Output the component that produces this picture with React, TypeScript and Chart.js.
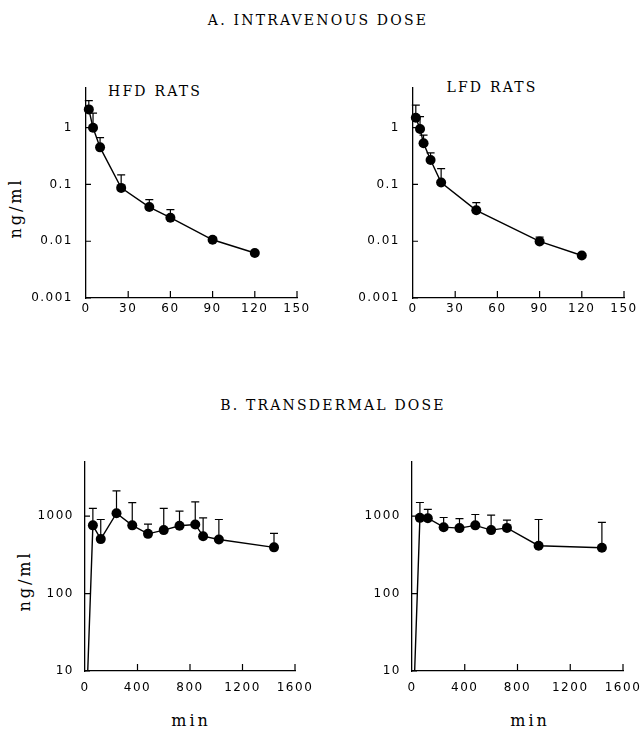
import React, { useEffect, useRef } from "react";
import { Chart, registerables } from "chart.js";
Chart.register(...registerables);

// ---------- data ----------
const ivTicksX = [0, 30, 60, 90, 120, 150];
const ivTicksY = [0.001, 0.01, 0.1, 1];
const ivTickLabelsY = ["0.001", "0.01", "0.1", "1"];
const tdTicksX = [0, 400, 800, 1200, 1600];
const tdTicksY = [10, 100, 1000];
const tdTickLabelsY = ["10", "100", "1000"];

// A. intravenous dose, HFD rats (min, ng/ml, upper end of error bar)
const hfdIvTime = [2, 5, 10, 25, 45, 60, 90, 120];
const hfdIvConc = [2.1, 1.0, 0.45, 0.087, 0.04, 0.026, 0.0106, 0.0062];
const hfdIvUpper = [3.0, 1.8, 0.67, 0.148, 0.054, 0.036, 0.0116, null];

// A. intravenous dose, LFD rats
const lfdIvTime = [2, 5, 7.5, 12.5, 20, 45, 90, 120];
const lfdIvConc = [1.5, 0.95, 0.53, 0.27, 0.108, 0.035, 0.0099, 0.0056];
const lfdIvUpper = [2.5, 1.56, 0.74, 0.36, 0.19, 0.048, 0.0118, null];

// B. transdermal dose, HFD rats
const hfdTdTime = [0, 60, 120, 240, 360, 480, 600, 720, 840, 900, 1020, 1440];
const hfdTdConc = [1, 760, 505, 1090, 760, 590, 660, 750, 780, 550, 500, 395];
const hfdTdUpper = [null, 1260, 905, 2120, 1490, 790, 1260, 1160, 1530, 950, 905, 600];

// B. transdermal dose, LFD rats
const lfdTdTime = [0, 60, 120, 240, 360, 480, 600, 720, 960, 1440];
const lfdTdConc = [1, 950, 940, 720, 700, 760, 660, 705, 415, 390];
const lfdTdUpper = [null, 1500, 1220, 960, 930, 1050, 1030, 890, 905, 830];

type Box = { x: number; y: number; w: number; h: number };
type Area = { l: number; t: number; r: number; b: number };

type PanelProps = {
  box: Box;
  area: Area;
  xMin: number;
  xMax: number;
  xTicks: number[];
  yMin: number;
  yMax: number;
  yTicks: number[];
  yLabels: string[];
  times: number[];
  conc: number[];
  upper: (number | null)[];
  yPad: number;
  xPad: number;
};

function Panel(p: PanelProps) {
  const ref = useRef<HTMLCanvasElement>(null);
  useEffect(() => {
    if (!ref.current) return;
    const W = p.box.w;
    const H = p.box.h;
    const aL = p.area.l - p.box.x;
    const aT = p.area.t - p.box.y;
    const aR = p.area.r - p.box.x;
    const aB = p.area.b - p.box.y;
    const data = p.times.map((t, i) => ({ x: t, y: p.conc[i] }));

    const decor = {
      id: "decor",
      beforeDraw(chart: any) {
        chart.ctx.letterSpacing = "1.5px";
      },
      beforeDatasetsDraw(chart: any) {
        const ctx = chart.ctx;
        const xs = chart.scales.x;
        const ys = chart.scales.y;
        ctx.save();
        ctx.strokeStyle = "#000";
        ctx.lineWidth = 1.2;
        p.times.forEach((t, i) => {
          const u = p.upper[i];
          if (u === null || u === undefined) return;
          const x = xs.getPixelForValue(t);
          const y1 = ys.getPixelForValue(p.conc[i]);
          const y2 = ys.getPixelForValue(u);
          ctx.beginPath();
          ctx.moveTo(x, y1);
          ctx.lineTo(x, y2);
          ctx.moveTo(x - 4, y2);
          ctx.lineTo(x + 4, y2);
          ctx.stroke();
        });
        ctx.restore();
      },
      afterDraw(chart: any) {
        const ctx = chart.ctx;
        const xs = chart.scales.x;
        const ys = chart.scales.y;
        const ca = chart.chartArea;
        ctx.save();
        ctx.strokeStyle = "#000";
        ctx.lineWidth = 1.2;
        ctx.beginPath();
        p.yTicks.forEach((v) => {
          const y = ys.getPixelForValue(v);
          ctx.moveTo(ca.left, y);
          ctx.lineTo(ca.left + 5, y);
        });
        p.xTicks.forEach((v) => {
          if (v === p.xMin) return;
          const x = xs.getPixelForValue(v);
          ctx.moveTo(x, ca.bottom);
          ctx.lineTo(x, ca.bottom - 7);
        });
        ctx.stroke();
        ctx.restore();
      },
    };

    const chart = new Chart(ref.current, {
      type: "line",
      data: {
        datasets: [
          {
            data,
            borderColor: "#000",
            backgroundColor: "#000",
            borderWidth: 1.4,
            pointRadius: (c: any) => (c.raw && c.raw.y < p.yMin ? 0 : 5),
            pointHoverRadius: 0,
            pointBorderWidth: 0,
            tension: 0,
            clip: { left: 6, top: 6, right: 6, bottom: 0 },
          } as any,
        ],
      },
      options: {
        responsive: false,
        animation: false,
        events: [],
        layout: { padding: { left: 0, top: aT, right: W - aR, bottom: 0 } },
        plugins: { legend: { display: false }, tooltip: { enabled: false } },
        scales: {
          x: {
            type: "linear",
            bounds: "data",
            min: p.xMin,
            max: p.xMax,
            afterBuildTicks: (s: any) => {
              s.ticks = p.xTicks.map((v) => ({ value: v }));
            },
            afterFit: (s: any) => {
              s.height = H - aB;
              s.paddingLeft = 0;
              s.paddingRight = 0;
            },
            grid: { display: false, drawTicks: false },
            border: { display: true, color: "#000", width: 1.3 },
            ticks: {
              color: "#000",
              font: { family: "DejaVu Sans", size: 12 },
              padding: p.xPad,
              maxRotation: 0,
              autoSkip: false,
              callback: (v: any) => String(v),
            },
          },
          y: {
            type: "logarithmic",
            bounds: "data",
            min: p.yMin,
            max: p.yMax,
            afterBuildTicks: (s: any) => {
              s.ticks = p.yTicks.map((v) => ({ value: v }));
            },
            afterFit: (s: any) => {
              s.width = aL;
            },
            grid: { display: false, drawTicks: false },
            border: { display: true, color: "#000", width: 1.3 },
            ticks: {
              color: "#000",
              font: { family: "DejaVu Sans", size: 12 },
              padding: p.yPad,
              autoSkip: false,
              callback: (v: any) => {
                const idx = p.yTicks.findIndex((t) => Math.abs(t - v) / t < 1e-6);
                return idx >= 0 ? p.yLabels[idx] : "";
              },
            },
          },
        },
      } as any,
      plugins: [decor],
    });
    return () => chart.destroy();
  }, []);
  return (
    <canvas
      ref={ref}
      width={p.box.w}
      height={p.box.h}
      style={{ position: "absolute", left: p.box.x, top: p.box.y, width: p.box.w, height: p.box.h }}
    />
  );
}

const serif = "'DejaVu Serif', 'Liberation Serif', serif";

function Label(props: { x: number; y: number; text: string; size: number; spacing: number; rotate?: boolean }) {
  return (
    <div
      style={{
        position: "absolute",
        left: props.x,
        top: props.y,
        transform: `translate(-50%, -50%)${props.rotate ? " rotate(-90deg)" : ""}`,
        fontFamily: serif,
        fontSize: props.size,
        letterSpacing: props.spacing,
        lineHeight: 1,
        whiteSpace: "nowrap",
        color: "#000",
      }}
    >
      {props.text}
    </div>
  );
}

export default function App() {
  return (
    <div style={{ position: "absolute", left: 0, top: 0, width: 640, height: 732, background: "#fff", overflow: "hidden" }}>
      <Label x={318} y={20} text="A. INTRAVENOUS DOSE" size={14} spacing={2.2} />
      <Label x={333} y={405} text="B. TRANSDERMAL DOSE" size={14} spacing={2.2} />
      <Label x={155} y={91} text="HFD RATS" size={14} spacing={2.2} />
      <Label x={492} y={87} text="LFD RATS" size={14} spacing={2.2} />
      <Label x={16} y={208} text="ng/ml" size={16} spacing={3} rotate />
      <Label x={25} y={581} text="ng/ml" size={16} spacing={3} rotate />
      <Label x={191} y={721} text="min" size={16} spacing={3} />
      <Label x={530} y={721} text="min" size={16} spacing={3} />

      <Panel
        box={{ x: 0, y: 60, w: 320, h: 262 }}
        area={{ l: 86, t: 88, r: 297, b: 298 }}
        xMin={0} xMax={150} xTicks={ivTicksX}
        yMin={0.001} yMax={5} yTicks={ivTicksY} yLabels={ivTickLabelsY}
        times={hfdIvTime} conc={hfdIvConc} upper={hfdIvUpper}
        yPad={13} xPad={4}
      />
      <Panel
        box={{ x: 320, y: 60, w: 320, h: 262 }}
        area={{ l: 413, t: 88, r: 624, b: 298 }}
        xMin={0} xMax={150} xTicks={ivTicksX}
        yMin={0.001} yMax={5} yTicks={ivTicksY} yLabels={ivTickLabelsY}
        times={lfdIvTime} conc={lfdIvConc} upper={lfdIvUpper}
        yPad={13} xPad={4}
      />
      <Panel
        box={{ x: 0, y: 420, w: 320, h: 290 }}
        area={{ l: 85, t: 462, r: 295, b: 671 }}
        xMin={0} xMax={1600} xTicks={tdTicksX}
        yMin={10} yMax={5000} yTicks={tdTicksY} yLabels={tdTickLabelsY}
        times={hfdTdTime} conc={hfdTdConc} upper={hfdTdUpper}
        yPad={11} xPad={10}
      />
      <Panel
        box={{ x: 320, y: 420, w: 320, h: 290 }}
        area={{ l: 412, t: 462, r: 623, b: 671 }}
        xMin={0} xMax={1600} xTicks={tdTicksX}
        yMin={10} yMax={5000} yTicks={tdTicksY} yLabels={tdTickLabelsY}
        times={lfdTdTime} conc={lfdTdConc} upper={lfdTdUpper}
        yPad={11} xPad={10}
      />
    </div>
  );
}
